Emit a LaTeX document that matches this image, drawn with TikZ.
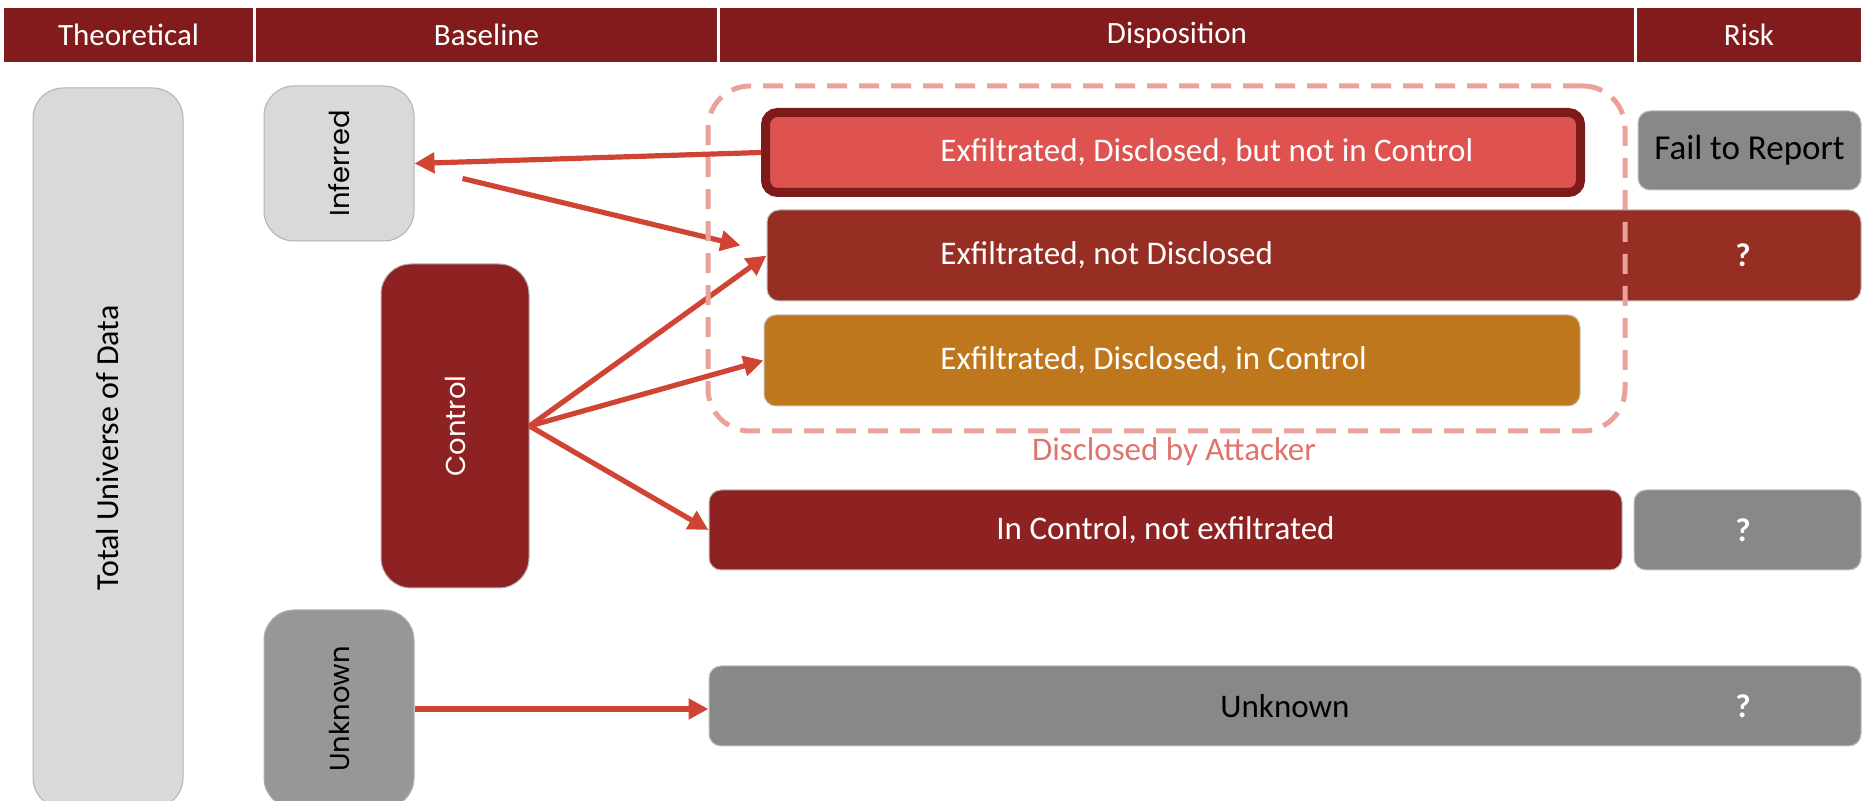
\documentclass[tikz,border=0pt]{standalone}
\usepackage{fontspec}
\setmainfont{Carlito}
\newfontfamily\geofont{Poppins}
\usepackage{tikz}
\usetikzlibrary{arrows.meta,positioning}
\definecolor{hdr}{HTML}{821C1C}
\definecolor{lgray}{HTML}{D9D9D9}
\definecolor{mgray}{HTML}{979797}
\definecolor{dgray}{HTML}{888888}
\definecolor{ctlred}{HTML}{8E2222}
\definecolor{exred}{HTML}{DE5250}
\definecolor{exbrd}{HTML}{7E1A1A}
\definecolor{ndred}{HTML}{962E24}
\definecolor{amber}{HTML}{BE771C}
\definecolor{dashcol}{HTML}{E9A199}
\definecolor{lblcol}{HTML}{E0736B}
\definecolor{arrred}{HTML}{D04434}

\begin{document}
\begin{tikzpicture}[x=0.5pt,y=-0.5pt,
  hcell/.style={fill=hdr,text=white,minimum height=27pt,inner sep=0,
                font=\fontsize{15.5}{18}\selectfont},
  vbox/.style={draw=black!30,line width=0.5pt,rounded corners=15pt,inner sep=0,
               minimum width=75pt,font=\geofont\fontsize{13.7}{16}\selectfont},
  rbox/.style={draw=black!25,line width=0.5pt,rounded corners=6pt,inner sep=0,
               font=\fontsize{16.5}{19}\selectfont},
  rowtxt/.style={anchor=west,inner sep=0,text=white,font=\fontsize{16.5}{19}\selectfont},
  qmark/.style={inner sep=0,text=white,font=\bfseries\fontsize{16.5}{19}\selectfont},
  dashbox/.style={draw=dashcol,line width=2.5pt,dash pattern=on 10pt off 6pt,
                  rounded corners=21pt,inner sep=0},
  arr/.style={-{Triangle[length=10pt,width=10pt]},line width=2.6pt,arrred}
]
  \useasboundingbox (0,0) rectangle (1865,801);
  \clip (0,0) rectangle (1865,801);

  \node[hcell,minimum width=124.5pt] (hth) at (128.5,35) {\raisebox{-1.5pt}{Theoretical}};
  \node[hcell,minimum width=230.5pt] (hbl) at (486.5,35) {\raisebox{-1.5pt}{Baseline}};
  \node[hcell,minimum width=457pt] (hdp) at (1177,35) {\raisebox{-1.5pt}{Disposition}};
  \node[hcell,minimum width=112pt] (hrk) at (1749,35) {\raisebox{-1.5pt}{Risk}};

  \node[vbox,fill=lgray,minimum height=360pt,font=\fontsize{16}{19}\selectfont] (tot) at (108,448)
    {\rotatebox{90}{Total Universe of Data}};
  \node[vbox,fill=lgray,minimum height=77.5pt] (inf) at (339,163.5) {\rotatebox{90}{Inferred}};
  \node[vbox,fill=ctlred,text=white,minimum width=74pt,minimum height=162pt] (ctl) at (455,426)
    {\rotatebox{90}{Control}};
  \node[vbox,fill=mgray,minimum height=99pt] (ukl) at (339,709) {\rotatebox{90}{Unknown}};

  \node[rbox,fill=exred,draw=exbrd,line width=4.5pt,minimum width=407.5pt,minimum height=40pt] (ex1) at (1173,152.5) {};
  \node[rowtxt] (ex1t) at (940,152.5) {Exfiltrated, Disclosed, but not in Control};
  \node[rbox,fill=dgray,minimum width=111.5pt,minimum height=39.5pt,font=\fontsize{17.5}{20}\selectfont] (fail) at (1749.5,150.5) {Fail to Report};

  \node[rbox,fill=ndred,minimum width=547pt,minimum height=45.5pt] (ex2) at (1314,255.5) {};
  \node[rowtxt] (ex2t) at (940,255.5) {Exfiltrated, not Disclosed};
  \node[qmark] (q2) at (1743,255.5) {?};

  \node[rbox,fill=amber,minimum width=408pt,minimum height=45.5pt] (ex3) at (1172,360.5) {};
  \node[rowtxt] (ex3t) at (940,360.5) {Exfiltrated, Disclosed, in Control};

  \node[rbox,fill=ctlred,text=white,minimum width=456.5pt,minimum height=40pt] (ic4) at (1165.5,530) {In Control, not exfiltrated};
  \node[rbox,fill=dgray,minimum width=113.5pt,minimum height=40pt] (rk4) at (1747.5,530) {};
  \node[qmark] (q4) at (1743,530) {?};

  \node[rbox,fill=dgray,minimum width=576pt,minimum height=40pt] (un5) at (1285,706) {Unknown};
  \node[qmark] (q5) at (1743,706) {?};

  \draw[arr] (ex1.west) -- (inf.east);
  \draw[arr] ([shift={(48,15)}]inf.east) -- ([shift={(-26,-10)}]ex2.west);
  \draw[arr] (ctl.east) -- (ex2.west);
  \draw[arr] (ctl.east) -- (ex3.west);
  \draw[arr] (ctl.east) -- (ic4.west);
  \draw[arr] (ukl.east) -- (ukl.east -| un5.west);

  \node[dashbox,minimum width=458.5pt,minimum height=172.5pt] (dis) at (1166.5,258.5) {};
  \node[inner sep=0,text=lblcol,font=\fontsize{16.5}{19}\selectfont] (dislbl) at (1174,452) {Disclosed by Attacker};
\end{tikzpicture}
\end{document}
